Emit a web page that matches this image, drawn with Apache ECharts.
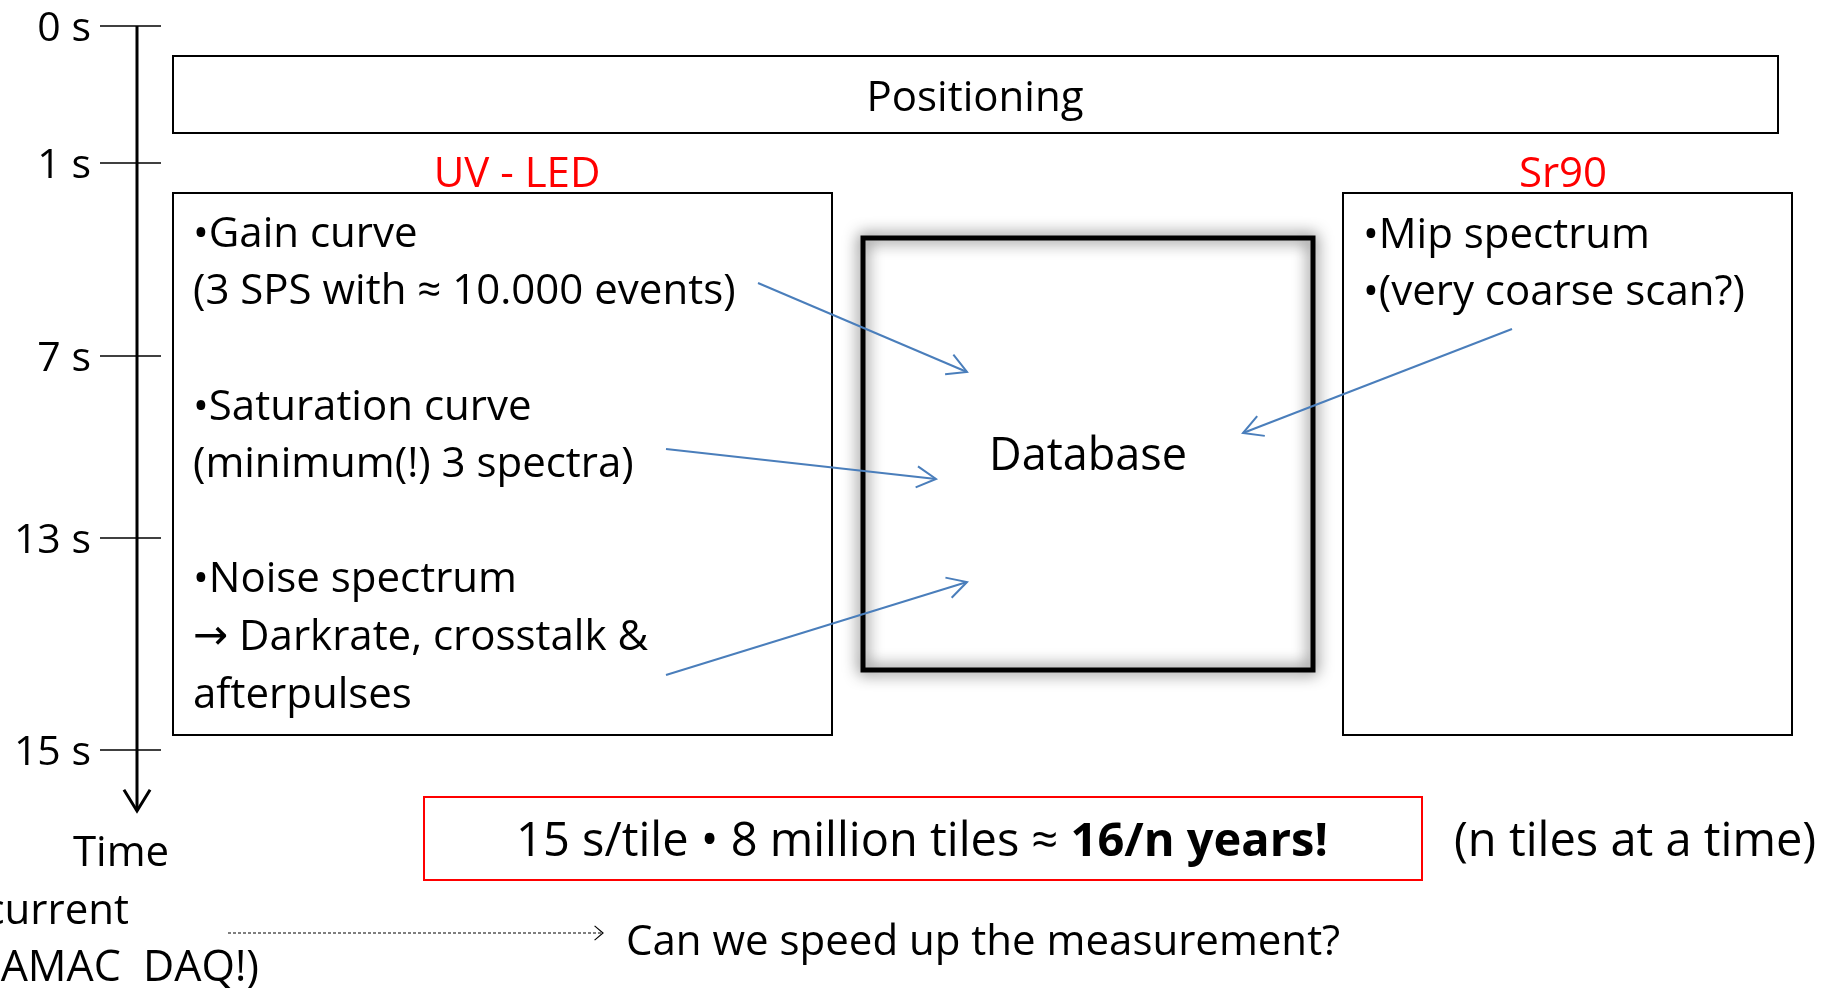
<!DOCTYPE html>
<html>
<head>
<meta charset="utf-8">
<script src="https://cdn.jsdelivr.net/npm/echarts@6/dist/echarts.min.js"></script>
<style>
  html, body { margin: 0; padding: 0; background: #fff; }
  #chart { width: 1835px; height: 988px; }
</style>
</head>
<body>
<div id="chart"></div>
<script>
// content of the diagram
var tickLabels = ['0 s', '1 s', '7 s', '13 s', '15 s'];
var stepTitle = 'Positioning';
var sourceTitles = ['UV - LED', 'Sr90'];
var uvItems = ['•Gain curve', '(3 SPS with ≈ 10.000 events)', '•Saturation curve',
  '(minimum(!) 3 spectra)', '•Noise spectrum', '→ Darkrate, crosstalk &', 'afterpulses'];
var srItems = ['•Mip spectrum', '•(very coarse scan?)'];
var centerTitle = 'Database';
var axisTitle = ['Time', 'current', 'AMAC  DAQ!)'];
var summaryPlain = '15 s/tile • 8 million tiles ≈ ';
var summaryBold = '16/n years!';
var summaryNote = '(n tiles at a time)';
var question = 'Can we speed up the measurement?';

// layout (in picture units, mapped through the hidden axes)
var tickY = [26, 163, 356, 538, 750];
var uvLineY = [232, 289, 405, 462, 577, 635, 693];
var srLineY = [233, 290];
var arrowsIn = [[758, 283, 967, 372], [666, 449, 936, 479], [666, 675, 967, 582], [1512, 329, 1243, 433]];

var FONT = '"Open Sans"';
var chart = echarts.init(document.getElementById('chart'));

function chevron(tip, from, len, ang) {
  var a = Math.atan2(from[1] - tip[1], from[0] - tip[0]);
  return [
    [tip[0] + len * Math.cos(a + ang), tip[1] + len * Math.sin(a + ang)],
    tip,
    [tip[0] + len * Math.cos(a - ang), tip[1] + len * Math.sin(a - ang)]
  ];
}

function renderDiagram(params, api) {
  var kids = [];
  function p(x, y) { return api.coord([x, y]); }
  function rect(x1, y1, x2, y2, style) {
    var a = p(x1, y1), b = p(x2, y2);
    kids.push({ type: 'rect', shape: { x: a[0], y: a[1], width: b[0] - a[0], height: b[1] - a[1] }, style: style });
  }
  function line(x1, y1, x2, y2, style) {
    var a = p(x1, y1), b = p(x2, y2);
    kids.push({ type: 'line', shape: { x1: a[0], y1: a[1], x2: b[0], y2: b[1] }, style: style });
  }
  function text(str, x, y, align, size, color, bold) {
    var a = p(x, y + 3);
    var st = { text: str, x: a[0], y: a[1], align: align, verticalAlign: 'middle',
      font: size + 'px ' + FONT, fill: color || '#000' };
    // arrow glyph drawn larger, like the original symbol font
    if (str.charAt(0) === '→') {
      st.text = '{a|→}{n|' + str.slice(1) + '}';
      st.rich = { a: { font: size + 'px "DejaVu Sans"', fill: '#000' }, n: { font: size + 'px ' + FONT, fill: '#000' } };
    }
    kids.push({ type: 'text', style: st });
  }
  function arrow(x1, y1, x2, y2, color, w, len, ang, dash) {
    var a = p(x1, y1), b = p(x2, y2);
    kids.push({ type: 'line', shape: { x1: a[0], y1: a[1], x2: b[0], y2: b[1] },
      style: { stroke: color, lineWidth: w, lineDash: dash || null } });
    kids.push({ type: 'polyline', shape: { points: chevron(b, a, len, ang) },
      style: { stroke: color, lineWidth: w, fill: null } });
  }

  // time axis
  arrow(137, tickY[0], 137, 811, '#000', 3, 25, 0.55);
  tickLabels.forEach(function (t, i) {
    line(100, tickY[i], 161, tickY[i], { stroke: '#000', lineWidth: 1.5 });
    text(t, 91, tickY[i], 'right', 41);
  });
  text(axisTitle[0], 121, 851, 'center', 42);
  text(axisTitle[1], 129, 909, 'right', 42);
  text(axisTitle[2], 259, 966, 'right', 43);

  // positioning step
  rect(173, 56, 1778, 133, { fill: '#fff', stroke: '#000', lineWidth: 2 });
  text(stepTitle, 975, 96, 'center', 42);

  // UV-LED box
  text(sourceTitles[0], 517, 172, 'center', 42, '#ff0000');
  rect(173, 193, 832, 735, { fill: '#fff', stroke: '#000', lineWidth: 2 });
  uvItems.forEach(function (t, i) { text(t, 193, uvLineY[i], 'left', 42); });

  // Sr90 box
  text(sourceTitles[1], 1563, 172, 'center', 42, '#ff0000');
  rect(1343, 193, 1792, 735, { fill: '#fff', stroke: '#000', lineWidth: 2 });
  srItems.forEach(function (t, i) { text(t, 1363, srLineY[i], 'left', 42); });

  // database box with soft shadow
  rect(863, 238, 1313, 670, { fill: null, stroke: '#000', lineWidth: 5,
    shadowBlur: 16, shadowColor: 'rgba(0,0,0,0.85)' });
  rect(863, 238, 1313, 670, { fill: null, stroke: '#000', lineWidth: 4 });
  text(centerTitle, 1088, 454, 'center', 45);

  // arrows into the database
  arrowsIn.forEach(function (a) { arrow(a[0], a[1], a[2], a[3], '#4a7ebb', 2, 22, 0.5); });

  // summary
  rect(424, 797, 1422, 880, { fill: '#fff', stroke: '#ff0000', lineWidth: 2 });
  var c = p(922, 843);
  kids.push({ type: 'text', style: {
    text: '{n|' + summaryPlain + '}{b|' + summaryBold + '}', x: c[0], y: c[1],
    align: 'center', verticalAlign: 'middle',
    rich: { n: { font: '47px ' + FONT, fill: '#000' }, b: { font: 'bold 47px ' + FONT, fill: '#000' } }
  } });
  text(summaryNote, 1454, 840, 'left', 47);

  // question with dotted arrow
  arrow(228, 933, 603, 933, '#000', 1.2, 11, 0.7, [3, 2]);
  text(question, 626, 940, 'left', 42);

  return { type: 'group', children: kids };
}

chart.setOption({
  animation: false,
  grid: { left: 0, right: 0, top: 0, bottom: 0 },
  xAxis: { type: 'value', min: 0, max: 1835, show: false },
  yAxis: { type: 'value', min: 0, max: 988, inverse: true, show: false },
  series: [{
    type: 'custom',
    coordinateSystem: 'cartesian2d',
    renderItem: renderDiagram,
    data: [[0, 0]],
    silent: true,
    clip: false
  }]
});
</script>
</body>
</html>
